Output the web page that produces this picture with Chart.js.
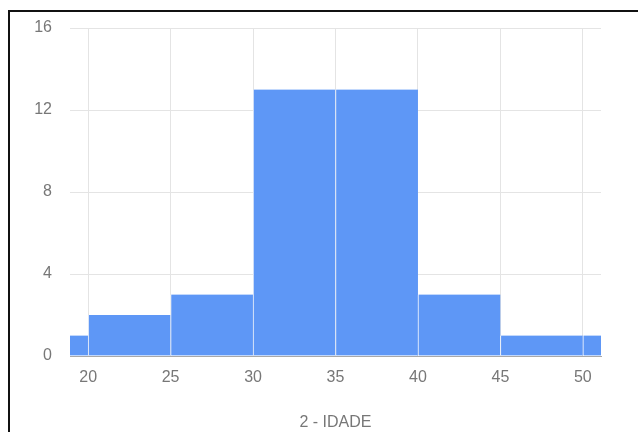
<!DOCTYPE html>
<html>
<head>
<meta charset="utf-8">
<script src="https://cdn.jsdelivr.net/npm/chart.js@4/dist/chart.umd.min.js"></script>
<style>
  html, body { margin: 0; padding: 0; background: #fff; overflow: hidden; }
  #quadro { position: absolute; left: 8px; top: 10px; width: 700px; height: 500px;
            border-top: 2px solid #111; border-left: 2px solid #111; }
  #grafico { position: absolute; left: 0; top: 0; }
</style>
</head>
<body>
<div id="quadro"></div>
<canvas id="grafico" width="638" height="432"></canvas>
<script>
// histograma das idades, classes de 5 anos
var inicioClasses = [15, 20, 25, 30, 35, 40, 45, 50];
var larguraClasse = 5;
var frequencias = [1, 2, 3, 13, 13, 3, 1, 1];
var ticksX = [20, 25, 30, 35, 40, 45, 50];
var ticksY = [0, 4, 8, 12, 16];
var tituloX = '2 - IDADE';

var pontos = inicioClasses.map(function (ini, i) {
  return { x: ini + larguraClasse / 2, y: frequencias[i] };
});

var corTexto = '#777777';
var fonte = { family: 'Liberation Sans, Arial, sans-serif', size: 16 };

new Chart(document.getElementById('grafico'), {
  type: 'bar',
  data: {
    datasets: [{
      data: pontos,
      backgroundColor: '#5e97f6',
      borderColor: 'rgba(255,255,255,0.75)',
      borderWidth: { left: 1, right: 0, top: 0, bottom: 0 },
      borderSkipped: false,
      barPercentage: 1,
      categoryPercentage: 1,
      clip: 0
    }]
  },
  options: {
    responsive: false,
    animation: false,
    layout: { padding: { top: 28, right: 37, left: 0, bottom: 0 } },
    plugins: { legend: { display: false }, tooltip: { enabled: false } },
    scales: {
      x: {
        type: 'linear',
        offset: false,
        min: 18.9,
        max: 51.1,
        afterFit: function (s) { s.height = 76; },
        afterBuildTicks: function (s) {
          s.ticks = ticksX.map(function (v) { return { value: v }; });
        },
        ticks: { color: corTexto, font: fonte, padding: 12, maxRotation: 0, autoSkip: false },
        grid: { color: '#e4e4e4', drawTicks: false, offset: false },
        border: { display: true, color: '#a8a8a8', width: 1, z: 1 },
        title: { display: true, text: tituloX, color: corTexto, font: fonte, padding: { top: 0, bottom: 0 } }
      },
      y: {
        min: 0,
        max: 16,
        afterFit: function (s) { s.width = 70; },
        afterBuildTicks: function (s) {
          s.ticks = ticksY.map(function (v) { return { value: v }; });
        },
        ticks: { color: corTexto, font: fonte, padding: 18 },
        grid: { color: '#e4e4e4', drawTicks: false },
        border: { display: false }
      }
    }
  }
});
</script>
</body>
</html>
